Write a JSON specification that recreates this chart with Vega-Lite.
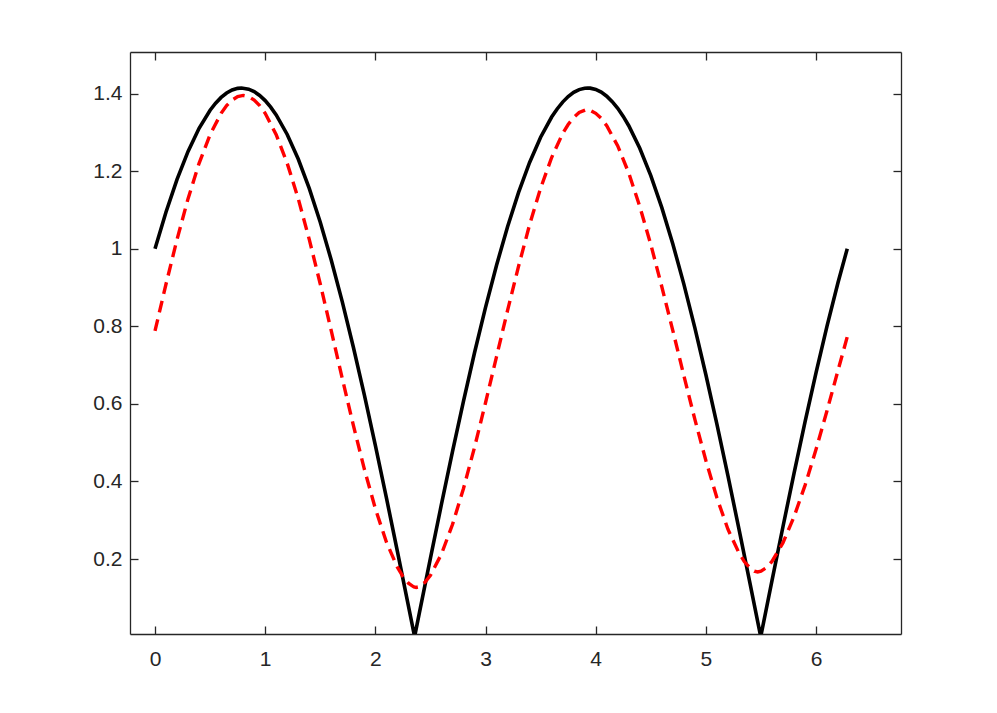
{
  "$schema": "https://vega.github.io/schema/vega-lite/v6.json",
  "autosize": {"type": "none"},
  "padding": {"left": 130, "top": 52, "right": 96, "bottom": 79},
  "width": 771,
  "height": 582,
  "background": "#ffffff",
  "config": {
    "view": {"stroke": null},
    "axis": {
      "domainColor": "#262626",
      "domainWidth": 1.3,
      "tickColor": "#262626",
      "tickWidth": 1.3,
      "tickSize": -8,
      "grid": false,
      "labelFont": "Liberation Sans",
      "labelFontSize": 21,
      "labelColor": "#262626",
      "title": null
    }
  },
  "datasets": {
    "black": [
      {"x": 0, "y": 1.0}, {"x": 0.1, "y": 1.0948}, {"x": 0.2, "y": 1.1788}, {"x": 0.3, "y": 1.2508},
      {"x": 0.4, "y": 1.3105}, {"x": 0.5, "y": 1.357}, {"x": 0.55, "y": 1.3752}, {"x": 0.6, "y": 1.3899},
      {"x": 0.65, "y": 1.4013}, {"x": 0.7, "y": 1.409}, {"x": 0.75, "y": 1.4133},
      {"x": 0.785, "y": 1.4142}, {"x": 0.85, "y": 1.4113}, {"x": 0.9, "y": 1.4049}, {"x": 0.95, "y": 1.3951},
      {"x": 1.0, "y": 1.3818}, {"x": 1.05, "y": 1.365}, {"x": 1.1, "y": 1.3448},
      {"x": 1.2, "y": 1.2944}, {"x": 1.3, "y": 1.2311}, {"x": 1.4, "y": 1.1554}, {"x": 1.5, "y": 1.0682},
      {"x": 1.6, "y": 0.9704}, {"x": 1.7, "y": 0.8629}, {"x": 1.8, "y": 0.7466}, {"x": 1.9, "y": 0.623},
      {"x": 2.0, "y": 0.4932}, {"x": 2.1, "y": 0.3584}, {"x": 2.2, "y": 0.22}, {"x": 2.3, "y": 0.0794},
      {"x": 2.3562, "y": 0.0}, {"x": 2.4, "y": 0.0619}, {"x": 2.5, "y": 0.2026}, {"x": 2.6, "y": 0.3414},
      {"x": 2.7, "y": 0.4767}, {"x": 2.8, "y": 0.6072}, {"x": 2.9, "y": 0.7318}, {"x": 3.0, "y": 0.8489},
      {"x": 3.1, "y": 0.9575}, {"x": 3.2, "y": 1.0567}, {"x": 3.3, "y": 1.1452}, {"x": 3.4, "y": 1.2223},
      {"x": 3.5, "y": 1.2873}, {"x": 3.6, "y": 1.3393}, {"x": 3.65, "y": 1.3601}, {"x": 3.7, "y": 1.3779},
      {"x": 3.75, "y": 1.3922}, {"x": 3.8, "y": 1.4029}, {"x": 3.85, "y": 1.41}, {"x": 3.9, "y": 1.4137},
      {"x": 3.927, "y": 1.4142}, {"x": 3.95, "y": 1.4138}, {"x": 4.0, "y": 1.4104}, {"x": 4.05, "y": 1.4035},
      {"x": 4.1, "y": 1.3931}, {"x": 4.15, "y": 1.379}, {"x": 4.2, "y": 1.3619}, {"x": 4.25, "y": 1.3411},
      {"x": 4.3, "y": 1.317}, {"x": 4.4, "y": 1.2589}, {"x": 4.5, "y": 1.1883}, {"x": 4.6, "y": 1.1059},
      {"x": 4.7, "y": 1.0123}, {"x": 4.8, "y": 0.9087}, {"x": 4.9, "y": 0.796}, {"x": 5.0, "y": 0.6752},
      {"x": 5.1, "y": 0.5478}, {"x": 5.2, "y": 0.415}, {"x": 5.3, "y": 0.2779}, {"x": 5.4, "y": 0.1381},
      {"x": 5.4978, "y": 0.0}, {"x": 5.6, "y": 0.1443}, {"x": 5.7, "y": 0.284}, {"x": 5.8, "y": 0.4209},
      {"x": 5.9, "y": 0.5536}, {"x": 6.0, "y": 0.6808}, {"x": 6.1, "y": 0.8011}, {"x": 6.2, "y": 0.9134},
      {"x": 6.2832, "y": 1.0}
    ],
    "red": [
      {"x": 0, "y": 0.788}, {"x": 0.1, "y": 0.909}, {"x": 0.2, "y": 1.024}, {"x": 0.3, "y": 1.129},
      {"x": 0.4, "y": 1.22}, {"x": 0.5, "y": 1.294}, {"x": 0.6, "y": 1.349}, {"x": 0.65, "y": 1.369},
      {"x": 0.7, "y": 1.383}, {"x": 0.75, "y": 1.392}, {"x": 0.8, "y": 1.395}, {"x": 0.85, "y": 1.392},
      {"x": 0.9, "y": 1.383}, {"x": 0.95, "y": 1.369}, {"x": 1.0, "y": 1.349}, {"x": 1.1, "y": 1.294},
      {"x": 1.2, "y": 1.22}, {"x": 1.3, "y": 1.129}, {"x": 1.4, "y": 1.024}, {"x": 1.5, "y": 0.909},
      {"x": 1.6, "y": 0.788}, {"x": 1.7, "y": 0.665}, {"x": 1.8, "y": 0.545}, {"x": 1.9, "y": 0.432},
      {"x": 2.0, "y": 0.33}, {"x": 2.1, "y": 0.244}, {"x": 2.2, "y": 0.179}, {"x": 2.25, "y": 0.155},
      {"x": 2.3, "y": 0.138}, {"x": 2.35, "y": 0.128}, {"x": 2.37, "y": 0.127}, {"x": 2.4, "y": 0.129},
      {"x": 2.45, "y": 0.14}, {"x": 2.5, "y": 0.158}, {"x": 2.6, "y": 0.213}, {"x": 2.7, "y": 0.289},
      {"x": 2.8, "y": 0.382}, {"x": 2.9, "y": 0.488}, {"x": 3.0, "y": 0.603}, {"x": 3.1, "y": 0.722},
      {"x": 3.2, "y": 0.841}, {"x": 3.3, "y": 0.955}, {"x": 3.4, "y": 1.062}, {"x": 3.5, "y": 1.156},
      {"x": 3.6, "y": 1.235}, {"x": 3.7, "y": 1.297}, {"x": 3.75, "y": 1.32}, {"x": 3.8, "y": 1.338},
      {"x": 3.85, "y": 1.351}, {"x": 3.93, "y": 1.36},
      {"x": 4.0, "y": 1.349}, {"x": 4.05, "y": 1.336}, {"x": 4.1, "y": 1.317}, {"x": 4.2, "y": 1.265},
      {"x": 4.3, "y": 1.195},
      {"x": 4.4, "y": 1.109}, {"x": 4.5, "y": 1.011}, {"x": 4.6, "y": 0.902}, {"x": 4.7, "y": 0.789},
      {"x": 4.8, "y": 0.673}, {"x": 4.9, "y": 0.56}, {"x": 5.0, "y": 0.454}, {"x": 5.1, "y": 0.358},
      {"x": 5.2, "y": 0.277}, {"x": 5.3, "y": 0.216}, {"x": 5.35, "y": 0.193}, {"x": 5.4, "y": 0.177},
      {"x": 5.44, "y": 0.169}, {"x": 5.47, "y": 0.167}, {"x": 5.5, "y": 0.169}, {"x": 5.55, "y": 0.178},
      {"x": 5.6, "y": 0.194}, {"x": 5.7, "y": 0.242}, {"x": 5.8, "y": 0.309}, {"x": 5.9, "y": 0.39},
      {"x": 6.0, "y": 0.483}, {"x": 6.1, "y": 0.583}, {"x": 6.2, "y": 0.687}, {"x": 6.2832, "y": 0.773}
    ]
  },
  "layer": [
    {
      "data": {"name": "black"},
      "mark": {"type": "line", "color": "#000000", "strokeWidth": 3.6, "clip": true},
      "encoding": {
        "x": {"field": "x", "type": "quantitative",
              "scale": {"domain": [-0.227, 6.771], "nice": false, "zero": false},
              "axis": {"orient": "bottom", "values": [0, 1, 2, 3, 4, 5, 6], "format": "d", "labelPadding": 22}},
        "y": {"field": "y", "type": "quantitative",
              "scale": {"domain": [0.0069, 1.507], "nice": false, "zero": false},
              "axis": {"orient": "left", "values": [0.2, 0.4, 0.6, 0.8, 1, 1.2, 1.4], "format": "~g", "labelPadding": 16}}
      }
    },
    {
      "data": {"name": "red"},
      "mark": {"type": "line", "color": "#ff0000", "strokeWidth": 3.4, "strokeDash": [12, 7], "clip": true},
      "encoding": {
        "x": {"field": "x", "type": "quantitative",
              "axis": {"orient": "top", "values": [0, 1, 2, 3, 4, 5, 6], "labels": false}},
        "y": {"field": "y", "type": "quantitative",
              "axis": {"orient": "right", "values": [0.2, 0.4, 0.6, 0.8, 1, 1.2, 1.4], "labels": false}}
      }
    }
  ],
  "resolve": {"axis": {"x": "independent", "y": "independent"}}
}
